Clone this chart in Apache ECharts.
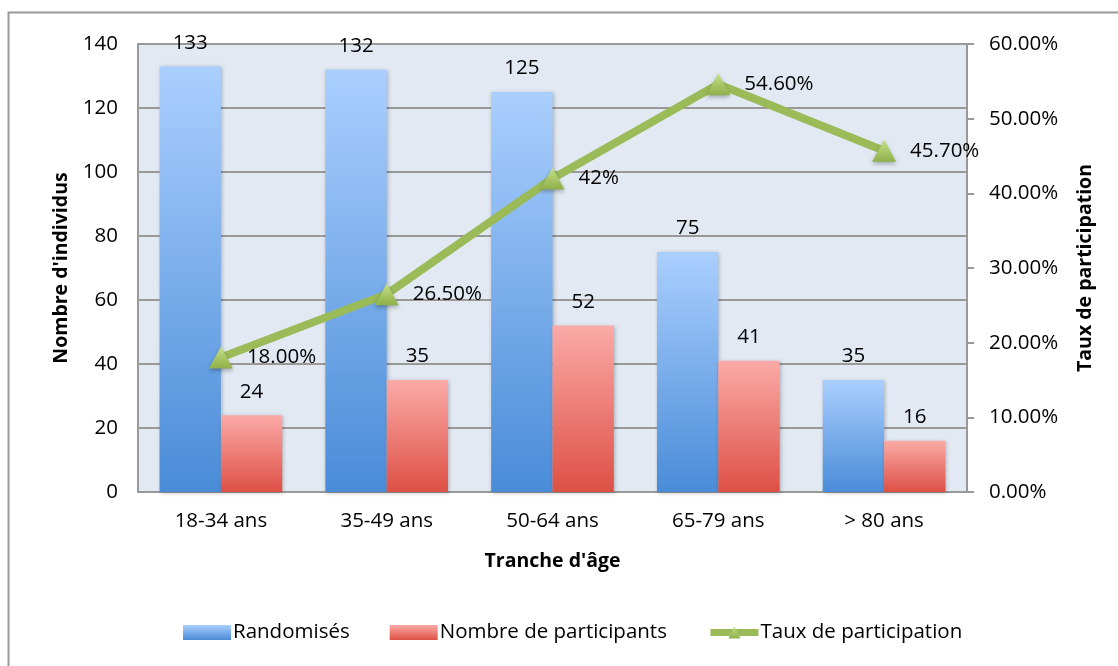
<!DOCTYPE html>
<html><head><meta charset="utf-8">
<script src="https://cdn.jsdelivr.net/npm/echarts@6/dist/echarts.min.js"></script>
<style>html,body{margin:0;padding:0;background:#fff}#c{width:1118px;height:666px}</style>
</head><body><div id="c"></div>
<script>
const categories = ['18-34 ans','35-49 ans','50-64 ans','65-79 ans','> 80 ans'];
const randomises = [133,132,125,75,35];
const participants = [24,35,52,41,16];
const taux = [18.0,26.5,42.0,54.6,45.7];
const tauxLabels = ['18.00%','26.50%','42%','54.60%','45.70%'];
const leftTicks = [0,20,40,60,80,100,120,140];
const rightTicks = [0,10,20,30,40,50,60];

const FONT = 'Open Sans';
const FS = 20.5;
const NFS = 19.5;
const chart = echarts.init(document.getElementById('c'), null, {renderer:'canvas'});
const grad = (t,b)=>new echarts.graphic.LinearGradient(0,0,0,1,[{offset:0,color:t},{offset:1,color:b}]);
chart.setOption({
  backgroundColor:'#fff',
  textStyle:{fontFamily:FONT,color:'#000'},
  graphic:[{type:'rect',shape:{x:8.5,y:12.5,width:1200,height:700},style:{fill:'none',stroke:'#9a9a9a',lineWidth:2},z:-10}],
  grid:{left:138,right:151,top:44,bottom:174,show:true,backgroundColor:'#e2e9f3',borderColor:'#999',borderWidth:2},
  legend:{bottom:18,left:178,itemGap:40,itemWidth:48,itemHeight:15,textStyle:{fontFamily:FONT,fontSize:FS,color:'#000',padding:[0,0,0,-3]},
    data:[{name:'Randomisés',icon:'rect'},{name:'Nombre de participants',icon:'rect'},
          {name:'Taux de participation',lineStyle:{width:7,color:'#9bbb59'}}]},
  xAxis:{type:'category',data:categories,axisTick:{show:false},axisLine:{lineStyle:{color:'#999',width:2}},
    axisLabel:{fontSize:FS,color:'#000',margin:19,fontFamily:FONT},
    name:"Tranche d'âge",nameLocation:'middle',nameGap:59,nameTextStyle:{fontSize:NFS,fontWeight:'bold',color:'#000',fontFamily:FONT}},
  yAxis:[
    {type:'value',min:0,max:140,interval:20,position:'left',
     axisLine:{show:true,lineStyle:{color:'#999',width:2}},axisTick:{show:false},
     splitLine:{lineStyle:{color:'#999',width:2}},
     axisLabel:{fontSize:FS,color:'#000',margin:20,fontFamily:FONT},
     name:"Nombre d'individus",nameLocation:'middle',nameGap:67,nameRotate:90,
     nameTextStyle:{fontSize:NFS,fontWeight:'bold',color:'#000',fontFamily:FONT}},
    {type:'value',min:0,max:60,interval:10,position:'right',
     axisLine:{show:true,lineStyle:{color:'#999',width:2}},axisTick:{show:true,length:7,lineStyle:{color:'#999',width:2}},
     splitLine:{show:false},
     axisLabel:{fontSize:FS,color:'#000',margin:22,fontFamily:FONT,formatter:v=>v.toFixed(2)+'%'},
     name:'Taux de participation',nameLocation:'middle',nameGap:108,nameRotate:90,
     nameTextStyle:{fontSize:NFS,fontWeight:'bold',color:'#000',fontFamily:FONT}}
  ],
  series:[
    {name:'Randomisés',type:'bar',data:randomises,barGap:'0%',barCategoryGap:'26%',
     itemStyle:{color:grad('#aacffe','#4a8cd8'),shadowColor:'rgba(0,0,0,0.25)',shadowBlur:4,shadowOffsetX:1,shadowOffsetY:1},
     label:{show:true,position:'top',distance:13,fontSize:FS,color:'#000',fontFamily:FONT}},
    {name:'Nombre de participants',type:'bar',data:participants,
     itemStyle:{color:grad('#fbaaa7','#dd5045'),shadowColor:'rgba(0,0,0,0.25)',shadowBlur:4,shadowOffsetX:1,shadowOffsetY:1},
     label:{show:true,position:'top',distance:13,fontSize:FS,color:'#000',fontFamily:FONT}},
    {name:'Taux de participation',type:'line',yAxisIndex:1,data:taux,symbol:'triangle',symbolSize:[24,22],
     lineStyle:{color:'#9bbb59',width:8},
     itemStyle:{color:grad('#c3e08a','#8fb048'),shadowColor:'rgba(0,0,0,0.3)',shadowBlur:4,shadowOffsetY:2},
     label:{show:true,position:'right',distance:14,fontSize:FS,color:'#000',fontFamily:FONT,formatter:p=>tauxLabels[p.dataIndex]},
     z:5}
  ]
});
</script></body></html>
